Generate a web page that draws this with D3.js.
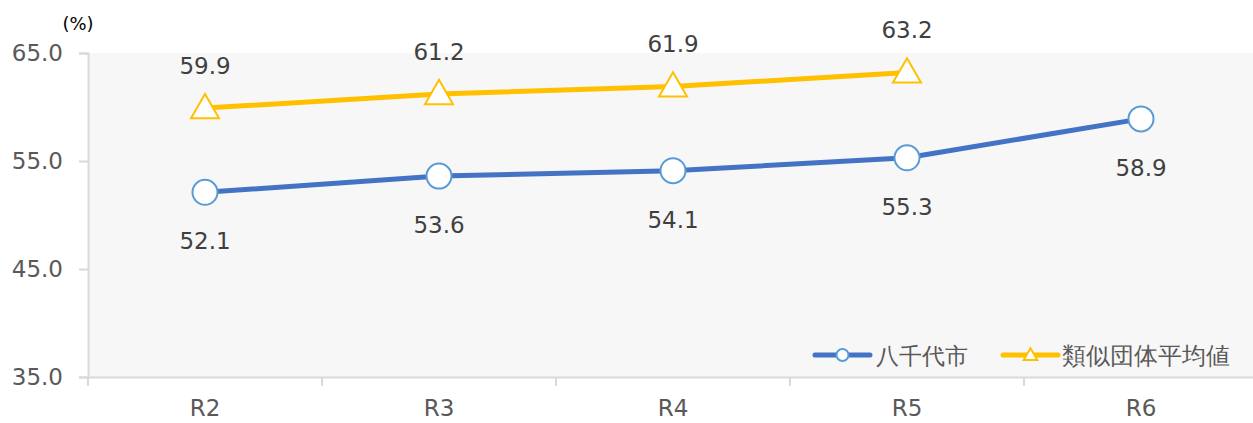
<!DOCTYPE html>
<html>
<head>
<meta charset="utf-8">
<script src="https://cdn.jsdelivr.net/npm/d3@7"></script>
<style>
  body { margin: 0; background: #fff; }
  svg text { font-family: 'DejaVu Sans', Verdana, sans-serif; }
</style>
</head>
<body>
<div id="chart"></div>
<script>
const categories = ['R2', 'R3', 'R4', 'R5', 'R6'];
const yachiyo = [52.1, 53.6, 54.1, 55.3, 58.9];
const similar = [59.9, 61.2, 61.9, 63.2, null];
const yTicks = [35, 45, 55, 65];
const seriesNames = ['八千代市', '類似団体平均値'];

const width = 1253, height = 423;
const plotLeft = 88, plotTop = 53, plotBottom = 377;
const labelFont = 23;

const svg = d3.select('#chart').append('svg')
  .attr('width', width)
  .attr('height', height);

const x = d3.scaleBand()
  .domain(categories)
  .range([plotLeft, plotLeft + 234 * categories.length]);

const y = d3.scaleLinear()
  .domain([35, 65])
  .range([plotBottom, plotTop]);

// plot background
svg.append('rect')
  .attr('x', plotLeft)
  .attr('y', plotTop)
  .attr('width', width - plotLeft)
  .attr('height', plotBottom - plotTop)
  .attr('fill', '#f7f7f7');

// y axis
const yAxis = svg.append('g')
  .attr('transform', `translate(${plotLeft},0)`)
  .call(d3.axisLeft(y).tickValues(yTicks).tickSize(9).tickPadding(16).tickFormat(d3.format('.1f')));
yAxis.select('.domain').attr('stroke', '#d9d9d9').attr('stroke-width', 2);
yAxis.selectAll('.tick line').attr('stroke', '#d9d9d9').attr('stroke-width', 2);
yAxis.selectAll('.tick text')
  .attr('fill', '#595959')
  .attr('font-size', labelFont)
  .attr('font-family', "'DejaVu Sans', Verdana, sans-serif");

// x axis
const xAxis = svg.append('g')
  .attr('transform', `translate(0,${plotBottom})`)
  .call(d3.axisBottom(x).tickSize(0).tickPadding(23));
xAxis.select('.domain').attr('stroke', '#d9d9d9').attr('stroke-width', 2);
xAxis.selectAll('.tick text')
  .attr('fill', '#595959')
  .attr('font-size', labelFont)
  .attr('font-family', "'DejaVu Sans', Verdana, sans-serif");

// category separators
svg.append('g')
  .selectAll('line')
  .data(categories)
  .enter()
  .append('line')
  .attr('x1', d => x(d))
  .attr('x2', d => x(d))
  .attr('y1', plotBottom)
  .attr('y2', plotBottom + 9)
  .attr('stroke', '#d9d9d9')
  .attr('stroke-width', 2);

// unit
svg.append('text')
  .attr('x', 78)
  .attr('y', 30)
  .attr('text-anchor', 'middle')
  .attr('font-size', 18)
  .attr('fill', '#000')
  .text('(%)');

const cx = d => x(d) + x.bandwidth() / 2;

const line = d3.line()
  .defined(d => d[1] != null)
  .x(d => cx(d[0]))
  .y(d => y(d[1]));

const triangle = d3.symbol().type(d3.symbolTriangle).size(340);

// similar-groups series
const simData = categories.map((c, i) => [c, similar[i]]).filter(d => d[1] != null);
svg.append('path')
  .datum(simData)
  .attr('d', line)
  .attr('fill', 'none')
  .attr('stroke', '#ffc000')
  .attr('stroke-width', 5);
svg.selectAll('.tri')
  .data(simData)
  .enter()
  .append('path')
  .attr('class', 'tri')
  .attr('d', triangle)
  .attr('transform', d => `translate(${cx(d[0])},${y(d[1]) + 2})`)
  .attr('fill', '#fff')
  .attr('stroke', '#ffc000')
  .attr('stroke-width', 2);
svg.selectAll('.simlabel')
  .data(simData)
  .enter()
  .append('text')
  .attr('class', 'simlabel')
  .attr('x', d => cx(d[0]))
  .attr('y', d => y(d[1]) - 34)
  .attr('text-anchor', 'middle')
  .attr('font-size', labelFont)
  .attr('fill', '#404040')
  .text(d => d[1].toFixed(1));

// Yachiyo series
const yaData = categories.map((c, i) => [c, yachiyo[i]]);
svg.append('path')
  .datum(yaData)
  .attr('d', line)
  .attr('fill', 'none')
  .attr('stroke', '#4472c4')
  .attr('stroke-width', 5);
svg.selectAll('.dot')
  .data(yaData)
  .enter()
  .append('circle')
  .attr('class', 'dot')
  .attr('cx', d => cx(d[0]))
  .attr('cy', d => y(d[1]))
  .attr('r', 12.5)
  .attr('fill', '#fff')
  .attr('stroke', '#5b9bd5')
  .attr('stroke-width', 2);
svg.selectAll('.yalabel')
  .data(yaData)
  .enter()
  .append('text')
  .attr('class', 'yalabel')
  .attr('x', d => cx(d[0]))
  .attr('y', d => y(d[1]) + 57)
  .attr('text-anchor', 'middle')
  .attr('font-size', labelFont)
  .attr('fill', '#404040')
  .text(d => d[1].toFixed(1));

// legend
const legend = svg.append('g').attr('transform', 'translate(0,355)');
const lg1 = legend.append('g').attr('transform', 'translate(815,0)');
lg1.append('line').attr('x1', 0).attr('x2', 55).attr('stroke', '#4472c4').attr('stroke-width', 5).attr('stroke-linecap', 'round');
lg1.append('circle').attr('cx', 27.5).attr('r', 6).attr('fill', '#fff').attr('stroke', '#5b9bd5').attr('stroke-width', 2);
lg1.append('text').attr('x', 61).attr('y', 9).attr('font-size', 23).attr('fill', '#595959')
  .attr('font-family', "'Noto Sans CJK JP', sans-serif").text(seriesNames[0]);

const lg2 = legend.append('g').attr('transform', 'translate(1003,0)');
lg2.append('line').attr('x1', 0).attr('x2', 55).attr('stroke', '#ffc000').attr('stroke-width', 5).attr('stroke-linecap', 'round');
lg2.append('path').attr('d', d3.symbol().type(d3.symbolTriangle).size(80)).attr('transform', 'translate(27.5,1)')
  .attr('fill', '#fff').attr('stroke', '#ffc000').attr('stroke-width', 2);
lg2.append('text').attr('x', 59).attr('y', 9).attr('font-size', 23.5).attr('fill', '#595959')
  .attr('font-family', "'Noto Sans CJK JP', sans-serif").text(seriesNames[1]);
</script>
</body>
</html>
